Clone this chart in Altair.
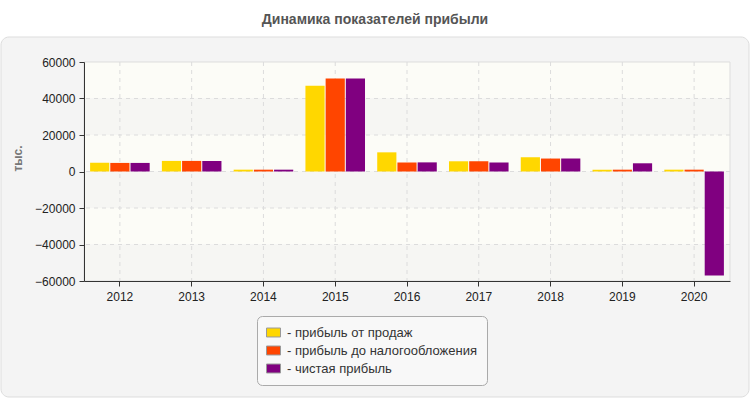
import altair as alt
import pandas as pd

years = ["2012", "2013", "2014", "2015", "2016", "2017", "2018", "2019", "2020"]
series_names = ["прибыль от продаж", "прибыль до налогообложения", "чистая прибыль"]
series_colors = ["#FFD700", "#FF4500", "#800080"]
sales_profit = [4800, 5800, 1000, 47000, 10500, 5600, 7800, 1000, 1000]
pretax_profit = [4700, 5800, 1000, 51000, 5000, 5600, 7100, 1000, 1000]
net_profit = [4700, 5800, 1000, 51000, 5000, 5000, 7100, 4500, -57000]
y_ticks = [-60000, -40000, -20000, 0, 20000, 40000, 60000]
grid_values = [-40000, -20000, 0, 20000, 40000]
band_top = [60000, 40000, 20000, 0, -20000, -40000]
band_bottom = [40000, 20000, 0, -20000, -40000, -60000]
band_fill = ["#fcfcf7", "#f6f6f3", "#fcfcf7", "#f6f6f3", "#fcfcf7", "#f6f6f3"]

W, H = 646, 219
FONT = "Liberation Sans"

rows = []
for name, vals in zip(series_names, [sales_profit, pretax_profit, net_profit]):
    for y, v in zip(years, vals):
        rows.append({"year": y, "series": name, "value": v})
df = pd.DataFrame(rows)
bands = pd.DataFrame({"top": band_top, "bottom": band_bottom, "fill": band_fill})
ygrid = pd.DataFrame({"v": grid_values})
xgrid = pd.DataFrame({"year": years})
one = pd.DataFrame({"a": [0]})

yscale = alt.Scale(domain=[-60000, 60000], nice=False, zero=False)
xscale = alt.Scale(paddingInner=0.17, paddingOuter=0.085)

xaxis = alt.Axis(
    title="", labelAngle=0, labelFontSize=12, labelColor="#222",
    labelFont=FONT, labelPadding=5, tickSize=5, tickColor="#333",
    domainColor="#333", grid=False, bandPosition=0.5, zindex=1,
)
yaxis = alt.Axis(
    title="тыс.", values=y_ticks, format="d", labelFontSize=12,
    labelColor="#222", labelFont=FONT, labelPadding=4, tickSize=5,
    tickColor="#333", domainColor="#333", grid=False,
    titleFont=FONT, titleFontSize=12, titleFontWeight="bold",
    titleColor="#777", titleAngle=-90, titleX=-67, titleY=96,
    titleAlign="center", titleBaseline="middle", zindex=1,
)

panel = alt.Chart(one).mark_rect(
    fill="#f4f4f4", stroke="#dddddd", strokeWidth=1, cornerRadius=8
).encode(x=alt.value(-83), x2=alt.value(665), y=alt.value(-25), y2=alt.value(335))

band_layer = alt.Chart(bands).mark_rect().encode(
    x=alt.value(0), x2=alt.value(W),
    y=alt.Y("top:Q", scale=yscale, axis=yaxis, title="тыс."),
    y2="bottom:Q",
    fill=alt.Fill("fill:N", scale=None),
)

border = alt.Chart(one).mark_rect(
    fill="transparent", stroke="#dddddd", strokeWidth=1
).encode(x=alt.value(0), x2=alt.value(W), y=alt.value(0), y2=alt.value(H))

ygrid_layer = alt.Chart(ygrid).mark_rule(
    color="#dcdcdc", strokeDash=[4, 4], strokeWidth=1
).encode(y=alt.Y("v:Q", scale=yscale, axis=yaxis, title="тыс."))

xgrid_layer = alt.Chart(xgrid).mark_rule(
    color="#dcdcdc", strokeDash=[4, 4], strokeWidth=1
).encode(x=alt.X("year:N", sort=years, scale=xscale, axis=xaxis, title=""))

bars = alt.Chart(df).mark_bar().encode(
    x=alt.X("year:N", sort=years, scale=xscale, axis=xaxis, title=""),
    xOffset=alt.XOffset(
        "series:N", sort=series_names, scale=alt.Scale(paddingInner=0.05, paddingOuter=0)
    ),
    y=alt.Y("value:Q", scale=yscale, axis=yaxis, title="тыс."),
    color=alt.Color(
        "series:N",
        sort=series_names,
        scale=alt.Scale(domain=series_names, range=series_colors),
        legend=alt.Legend(
            title=None, orient="none", legendX=173, legendY=254,
            labelExpr="'- ' + datum.label",
        ),
    ),
)

chart = alt.layer(panel, band_layer, border, ygrid_layer, xgrid_layer, bars).properties(
    width=W,
    height=H,
    background="white",
    autosize=alt.AutoSizeParams(type="none"),
    padding={"left": 84, "top": 62, "right": 20, "bottom": 119},
    title=alt.TitleParams(
        "Динамика показателей прибыли", fontSize=14, fontWeight="bold",
        color="#555", font=FONT, anchor="middle", dx=-32, offset=10,
    ),
).configure_view(stroke="transparent").configure_legend(
    padding=9, fillColor="#f8f8f8", strokeColor="#aaaaaa", cornerRadius=5,
    symbolType="M-1,-0.64H1V0.64H-1Z", symbolSize=196, symbolStrokeColor="#999999",
    symbolStrokeWidth=1, symbolOpacity=1, labelFontSize=13, labelColor="#333",
    labelFont=FONT, labelOffset=6, rowPadding=3, labelLimit=300,
)

chart.save("out.html", embed_options={"renderer": "svg", "actions": False})
